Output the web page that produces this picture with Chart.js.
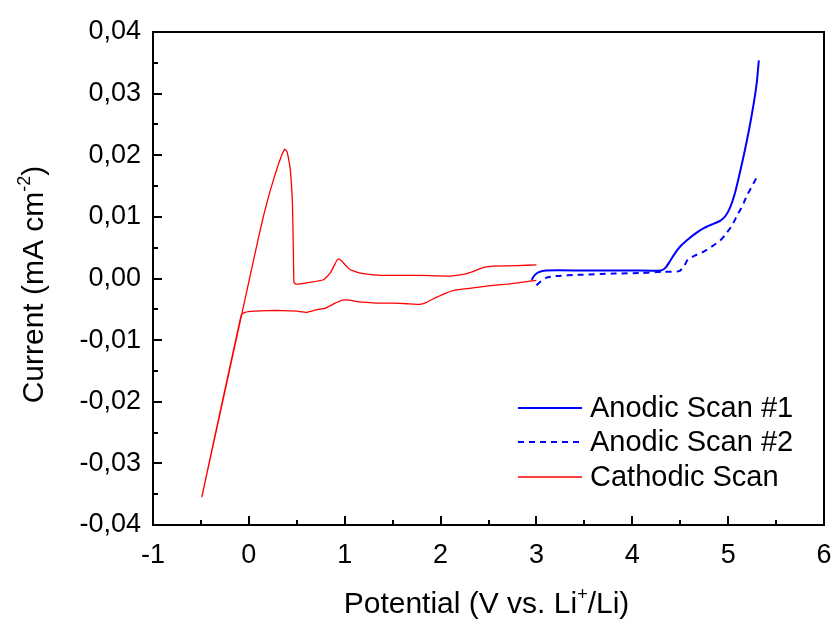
<!DOCTYPE html>
<html>
<head>
<meta charset="utf-8">
<script src="https://cdn.jsdelivr.net/npm/chart.js@4"></script>
<style>
  html, body { margin: 0; padding: 0; background: #fff; }
  #wrap { width: 833px; height: 619px; }
</style>
</head>
<body>
<div id="wrap"><canvas id="cvChart" width="833" height="619"></canvas></div>
<script>
// Cathodic scan: starts near 3 V on the lower branch, goes to -0.5 V and back
const cathodicV = [3.0, 2.9, 2.7, 2.5, 2.3, 2.15, 2.05, 1.95, 1.85, 1.78, 1.65, 1.5, 1.35, 1.25, 1.15, 1.05, 0.98, 0.9, 0.8, 0.7, 0.6, 0.5, 0.35, 0.2, 0.05, -0.04, -0.08,
  -0.49, 0.1, 0.16, 0.22, 0.27, 0.31, 0.345, 0.375, 0.4, 0.43, 0.455, 0.465, 0.47, 0.49, 0.52, 0.65, 0.78, 0.85, 0.92, 0.94, 0.97, 1.05, 1.15, 1.3, 1.5, 1.8, 2.1, 2.25, 2.35, 2.45, 2.55, 2.8, 3.0];
const cathodicI = [-0.0003, -0.0005, -0.0009, -0.0012, -0.0016, -0.0019, -0.0024, -0.0031, -0.0039, -0.0042, -0.0041, -0.0040, -0.0040, -0.0039, -0.0038, -0.0035, -0.0035, -0.0040, -0.0048, -0.0051, -0.0055, -0.0053, -0.0052, -0.0052, -0.0053, -0.0055, -0.0059,
  -0.0354, 0.0066, 0.0106, 0.0141, 0.0167, 0.0186, 0.0201, 0.0210, 0.0205, 0.0180, 0.0120, 0.0040, -0.0006, -0.0009, -0.0009, -0.0006, -0.0002, 0.0009, 0.0030, 0.0032, 0.0028, 0.0015, 0.0009, 0.0006, 0.0005, 0.0005, 0.0004, 0.0007, 0.0012, 0.0018, 0.0020, 0.0021, 0.0022];

const anodic1V = [2.95, 2.98, 3.02, 3.1, 3.5, 4.0, 4.3, 4.35, 4.4, 4.45, 4.5, 4.57, 4.65, 4.75, 4.85, 4.92, 4.97, 5.02, 5.07, 5.12, 5.17, 5.22, 5.27, 5.3, 5.32];
const anodic1I = [-0.0002, 0.0005, 0.0010, 0.0013, 0.0013, 0.0013, 0.0013, 0.0018, 0.0030, 0.0042, 0.0052, 0.0062, 0.0072, 0.0082, 0.0089, 0.0094, 0.0101, 0.0115, 0.0138, 0.0170, 0.0205, 0.0243, 0.0287, 0.0320, 0.0354];

const anodic2V = [3.0, 3.05, 3.1, 3.2, 3.45, 3.8, 4.1, 4.32, 4.49, 4.54, 4.58, 4.65, 4.75, 4.84, 4.92, 4.98, 5.04, 5.1, 5.15, 5.2, 5.25, 5.3];
const anodic2I = [-0.0011, -0.0004, 0.0001, 0.0004, 0.0006, 0.0008, 0.0009, 0.0011, 0.0012, 0.0020, 0.0031, 0.0037, 0.0044, 0.0053, 0.0062, 0.0073, 0.0086, 0.0104, 0.0118, 0.0136, 0.0150, 0.0165];

const seriesNames = ['Anodic Scan #1', 'Anodic Scan #2', 'Cathodic Scan'];
const xTicks = [-1, 0, 1, 2, 3, 4, 5, 6];
const yTicks = [-0.04, -0.03, -0.02, -0.01, 0, 0.01, 0.02, 0.03, 0.04];

const FONT = "'Liberation Sans', Arial, sans-serif";

function toPoints(xs, ys) {
  return xs.map((x, i) => ({ x: x, y: ys[i] }));
}

function fmtComma(v) {
  return v.toFixed(2).replace('.', ',').replace('-0,00', '0,00');
}

// frame, inward ticks, axis titles and legend
const decorPlugin = {
  id: 'decor',
  afterDraw(chart) {
    const ctx = chart.ctx;
    const a = chart.chartArea;
    const xs = chart.scales.x;
    const ys = chart.scales.y;
    ctx.save();
    ctx.strokeStyle = '#000';
    ctx.lineWidth = 2;
    ctx.strokeRect(a.left, a.top, a.right - a.left, a.bottom - a.top);

    ctx.beginPath();
    for (let v = -1; v <= 6.001; v += 0.5) {
      const px = Math.round(xs.getPixelForValue(v));
      const len = Math.abs(v - Math.round(v)) < 1e-6 ? 9 : 5;
      ctx.moveTo(px, a.bottom);
      ctx.lineTo(px, a.bottom - len);
    }
    for (let v = -0.04; v <= 0.0401; v += 0.005) {
      const py = Math.round(ys.getPixelForValue(v));
      const len = Math.abs(v * 100 - Math.round(v * 100)) < 1e-6 ? 9 : 5;
      ctx.moveTo(a.left, py);
      ctx.lineTo(a.left + len, py);
    }
    ctx.stroke();

    // axis titles with superscripts
    ctx.fillStyle = '#000';
    ctx.textBaseline = 'alphabetic';
    drawRich(ctx, [['Potential (V vs. Li', 0], ['+', 1], ['/Li)', 0]], (a.left + a.right) / 2 - 2, 613);
    ctx.save();
    ctx.translate(43, (a.top + a.bottom) / 2 + 6);
    ctx.rotate(-Math.PI / 2);
    drawRich(ctx, [['Current (mA cm', 0], ['-2', 1], [')', 0]], 0, 0);
    ctx.restore();

    // legend
    const rows = [408, 442, 477];
    chart.data.datasets.forEach((ds, i) => {
      ctx.strokeStyle = ds.borderColor;
      ctx.lineWidth = ds.borderWidth;
      ctx.setLineDash(ds.borderDash || []);
      ctx.beginPath();
      ctx.moveTo(518, rows[i]);
      ctx.lineTo(582, rows[i]);
      ctx.stroke();
      ctx.setLineDash([]);
      ctx.font = '29px ' + FONT;
      ctx.textAlign = 'left';
      ctx.textBaseline = 'middle';
      ctx.fillText(ds.label, 590, rows[i] + 1);
    });
    ctx.restore();
  }
};

function drawRich(ctx, parts, cx, baseY) {
  const big = '30px ' + FONT;
  const small = '18px ' + FONT;
  let total = 0;
  parts.forEach((p) => {
    ctx.font = p[1] ? small : big;
    total += ctx.measureText(p[0]).width;
  });
  let x = cx - total / 2;
  ctx.textAlign = 'left';
  parts.forEach((p) => {
    ctx.font = p[1] ? small : big;
    ctx.fillText(p[0], x, p[1] ? baseY - 13 : baseY);
    x += ctx.measureText(p[0]).width;
  });
}

const ctx = document.getElementById('cvChart').getContext('2d');
new Chart(ctx, {
  type: 'scatter',
  data: {
    datasets: [
      {
        label: seriesNames[0],
        data: toPoints(anodic1V, anodic1I),
        showLine: true,
        borderColor: '#0000ff',
        borderWidth: 2,
        pointRadius: 0,
        tension: 0.2,
      },
      {
        label: seriesNames[1],
        data: toPoints(anodic2V, anodic2I),
        showLine: true,
        borderColor: '#0000ff',
        borderWidth: 2,
        borderDash: [6, 5],
        pointRadius: 0,
        tension: 0.2,
      },
      {
        label: seriesNames[2],
        data: toPoints(cathodicV, cathodicI),
        showLine: true,
        borderColor: '#ff0000',
        borderWidth: 1.3,
        pointRadius: 0,
        tension: 0.1,
      },
    ],
  },
  options: {
    responsive: false,
    animation: false,
    layout: { padding: { top: 32, right: 9, left: 0, bottom: 0 } },
    plugins: {
      legend: { display: false },
      tooltip: { enabled: false },
    },
    scales: {
      x: {
        type: 'linear',
        min: -1,
        max: 6,
        afterBuildTicks: (s) => { s.ticks = xTicks.map((v) => ({ value: v })); },
        afterFit: (s) => { s.height = 94; s.paddingRight = 0; s.paddingLeft = 0; },
        grid: { display: false, drawTicks: false },
        border: { display: false },
        ticks: {
          color: '#000',
          font: { size: 27, family: FONT },
          padding: 14,
          maxRotation: 0,
          callback: (v) => String(v),
        },
      },
      y: {
        type: 'linear',
        min: -0.04,
        max: 0.04,
        afterBuildTicks: (s) => { s.ticks = yTicks.map((v) => ({ value: v })); },
        afterFit: (s) => { s.width = 153; s.paddingTop = 0; s.paddingBottom = 0; },
        grid: { display: false, drawTicks: false },
        border: { display: false },
        ticks: {
          color: '#000',
          font: { size: 27, family: FONT },
          padding: 12,
          callback: (v) => fmtComma(v),
        },
      },
    },
  },
  plugins: [decorPlugin],
});
</script>
</body>
</html>
